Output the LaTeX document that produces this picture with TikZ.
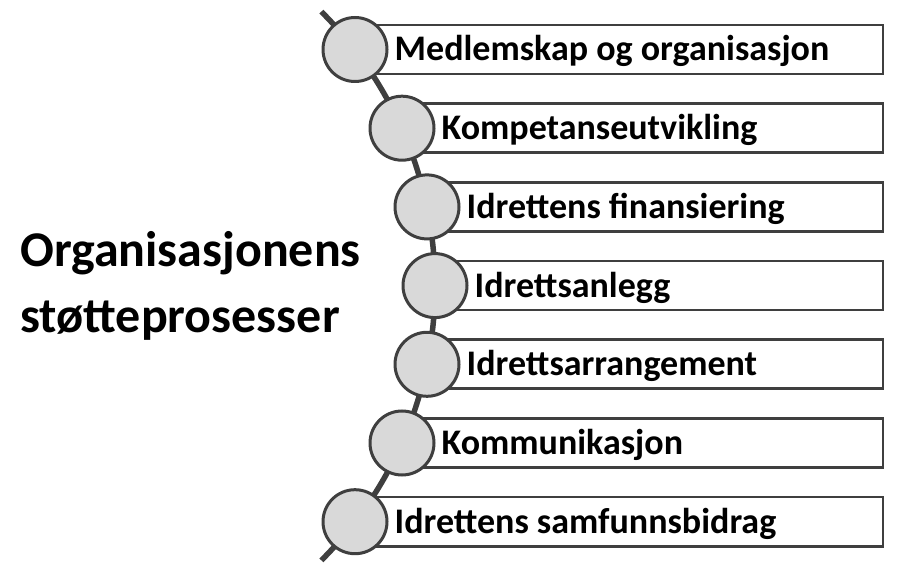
\documentclass[tikz,border=0pt]{standalone}
\usepackage{fontspec}
\setmainfont{Carlito}
\usepackage{tikz}
\usetikzlibrary{positioning}

\definecolor{linegray}{HTML}{3F3F3F}
\definecolor{ballgray}{HTML}{D9D9D9}

\begin{document}
\begin{tikzpicture}[x=1pt, y=1pt,
  ball/.style={circle, draw=linegray, line width=3pt, fill=ballgray, minimum size=64pt, inner sep=0pt},
  bar/.style={draw=linegray, line width=2.6pt, fill=white, anchor=west, minimum height=49pt, inner sep=0pt},
  item/.style={font=\fontsize{36}{40}\selectfont\bfseries, inner sep=0pt, text height=23pt, text depth=0pt},
  heading/.style={font=\fontsize{50}{66}\selectfont\bfseries, align=left, inner sep=0pt}]
\useasboundingbox (0,0) rectangle (900,576);

% Spine
\coordinate (hub) at (47,290);
\draw[linegray, line width=5.5pt] (hub) ++(45:388) arc[start angle=45, end angle=-45, radius=388];

% Bars
\node[bar, minimum width=526.5pt] (b1) at (355,526.5) {};
\node[bar, minimum width=479.5pt] (b2) at (402,447.8) {};
\node[bar, minimum width=454.5pt] (b3) at (427,369.1) {};
\node[bar, minimum width=446.5pt] (b4) at (435,290.4) {};
\node[bar, minimum width=454.5pt] (b5) at (427,211.7) {};
\node[bar, minimum width=479.5pt] (b6) at (402,133.0) {};
\node[bar, minimum width=526.5pt] (b7) at (355,54.3) {};

% Balls on the spine
\node[ball] (c1) at (b1.west) {};
\node[ball] (c2) at (b2.west) {};
\node[ball] (c3) at (b3.west) {};
\node[ball] (c4) at (b4.west) {};
\node[ball] (c5) at (b5.west) {};
\node[ball] (c6) at (b6.west) {};
\node[ball] (c7) at (b7.west) {};

% Labels
\node[item, right=6pt of c1] (t1) {Medlemskap og organisasjon};
\node[item, right=6pt of c2] (t2) {Kompetanseutvikling};
\node[item, right=6pt of c3] (t3) {Idrettens finansiering};
\node[item, right=6pt of c4] (t4) {Idrettsanlegg};
\node[item, right=6pt of c5] (t5) {Idrettsarrangement};
\node[item, right=6pt of c6] (t6) {Kommunikasjon};
\node[item, right=6pt of c7] (t7) {Idrettens samfunnsbidrag};

% Title
\node[heading, anchor=base west] (title) at (20,243) {Organisasjonens\\støtteprosesser};
\end{tikzpicture}
\end{document}
